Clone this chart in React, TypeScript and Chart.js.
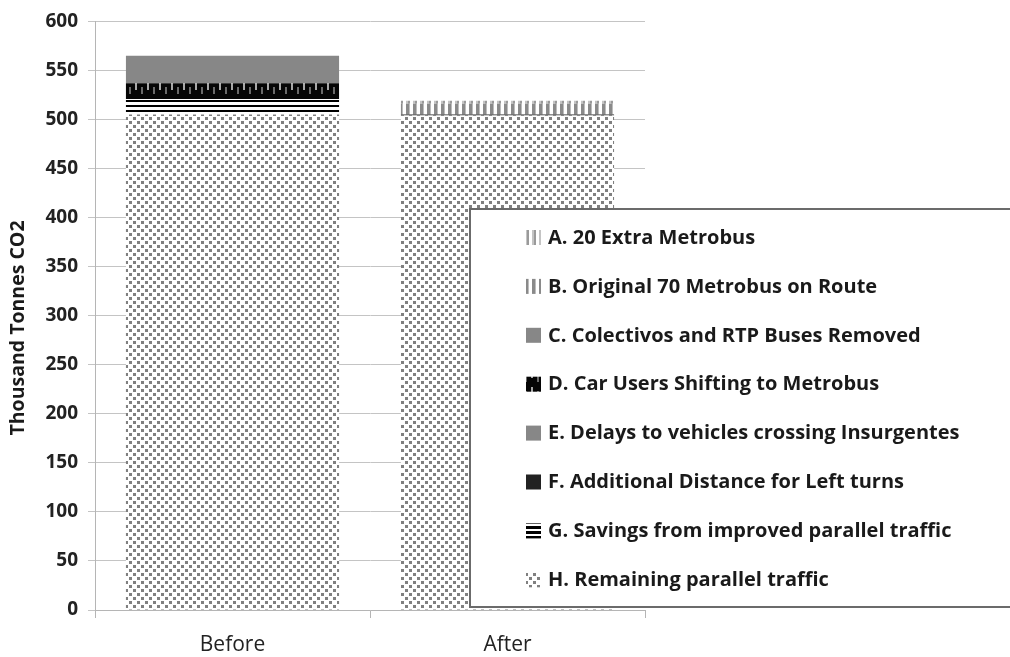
import React, { useEffect, useRef } from "react";
import { Chart, registerables } from "chart.js";

Chart.register(...registerables);

const categories = ["Before", "After"];
const legendLabels = [
  "A. 20 Extra Metrobus",
  "B. Original 70 Metrobus on Route",
  "C. Colectivos and RTP Buses Removed",
  "D. Car Users Shifting to Metrobus",
  "E. Delays to vehicles crossing Insurgentes",
  "F. Additional Distance for Left turns",
  "G. Savings from improved parallel traffic",
  "H. Remaining parallel traffic",
];
// values per category [Before, After]
const seriesA = [0, 3];
const seriesB = [0, 11];
const seriesC = [28, 0];
const seriesD = [16, 0];
const seriesE = [0, 0];
const seriesF = [0, 1];
const seriesG = [16, 0];
const seriesH = [505, 504];
const yTicks = [0, 50, 100, 150, 200, 250, 300, 350, 400, 450, 500, 550, 600];
const yTitle = "Thousand Tonnes CO2";

const FONT = "'Open Sans', 'Liberation Sans', sans-serif";

function makePattern(w: number, h: number, draw: (c: CanvasRenderingContext2D) => void): CanvasPattern | string {
  const cv = document.createElement("canvas");
  cv.width = w;
  cv.height = h;
  const c = cv.getContext("2d")!;
  draw(c);
  const ctx = document.createElement("canvas").getContext("2d")!;
  return ctx.createPattern(cv, "repeat") || "#888";
}

function buildFills() {
  const dots = makePattern(8, 8, (c) => {
    c.fillStyle = "#ffffff";
    c.fillRect(0, 0, 8, 8);
    c.fillStyle = "#808080";
    c.fillRect(1, 1, 3, 3);
    c.fillRect(5, 5, 3, 3);
  });
  const hlines = makePattern(6, 5, (c) => {
    c.fillStyle = "#ffffff";
    c.fillRect(0, 0, 6, 5);
    c.fillStyle = "#000000";
    c.fillRect(0, 0, 6, 2);
  });
  const dPat = makePattern(12, 16, (c) => {
    c.fillStyle = "#050505";
    c.fillRect(0, 0, 12, 16);
    c.fillStyle = "#a8a8a8";
    c.fillRect(3, 3, 2, 7);
    c.fillStyle = "#6a6a6a";
    c.fillRect(9, 7, 2, 7);
  });
  const aPat = makePattern(7, 4, (c) => {
    c.fillStyle = "#ffffff";
    c.fillRect(0, 0, 7, 4);
    c.fillStyle = "#c4c4c4";
    c.fillRect(0, 0, 2, 4);
    c.fillStyle = "#9a9a9a";
    c.fillRect(2, 0, 2, 4);
  });
  const bPat = makePattern(7, 4, (c) => {
    c.fillStyle = "#ffffff";
    c.fillRect(0, 0, 7, 4);
    c.fillStyle = "#8a8a8a";
    c.fillRect(0, 0, 3, 4);
    c.fillStyle = "#bdbdbd";
    c.fillRect(3, 0, 1, 4);
  });
  return { dots, hlines, dPat, aPat, bPat };
}

const legendPlugin = {
  id: "boxLegend",
  afterDraw(chart: any) {
    const ctx: CanvasRenderingContext2D = chart.ctx;
    const left = 470;
    const top = 209;
    const bottom = 607;
    const right = 1012;
    ctx.save();
    // y-axis title
    ctx.save();
    ctx.translate(18, 328);
    ctx.rotate(-Math.PI / 2);
    ctx.font = `bold 19.5px ${FONT}`;
    ctx.fillStyle = "#1a1a1a";
    ctx.textAlign = "center";
    ctx.textBaseline = "middle";
    ctx.fillText(yTitle, 0, 0);
    ctx.restore();

    ctx.fillStyle = "#ffffff";
    ctx.fillRect(left, top, right - left, bottom - top);
    ctx.strokeStyle = "#6b6b6b";
    ctx.lineWidth = 2;
    ctx.strokeRect(left, top, right - left, bottom - top);
    const ds = chart.data.datasets.slice().reverse();
    const startY = 237;
    const step = 48.9;
    ctx.font = `bold 20px ${FONT}`;
    ctx.textBaseline = "middle";
    ctx.textAlign = "left";
    ds.forEach((d: any, i: number) => {
      const y = startY + i * step;
      ctx.fillStyle = d.legendFill || d.backgroundColor;
      ctx.fillRect(526, y - 7, 15, 15);
      ctx.fillStyle = "#1a1a1a";
      ctx.fillText(d.label, 548, y + 1);
    });
    ctx.restore();
  },
};

export default function App() {
  const ref = useRef<HTMLCanvasElement | null>(null);
  useEffect(() => {
    if (!ref.current) return;
    const f = buildFills();
    const gLegend = makePattern(15, 15, (c) => {
      c.fillStyle = "#ffffff";
      c.fillRect(0, 0, 15, 15);
      c.fillStyle = "#000000";
      c.fillRect(0, 1, 15, 3);
      c.fillRect(0, 6, 15, 3);
      c.fillRect(0, 11, 15, 3);
    });
    const seriesList = [seriesH, seriesG, seriesF, seriesE, seriesD, seriesC, seriesB, seriesA];
    const fills: any[] = [f.dots, f.hlines, "#222222", "#878787", f.dPat, "#878787", f.bPat, f.aPat];
    const labelsRev = legendLabels.slice().reverse();
    const chart = new Chart(ref.current, {
      type: "bar",
      data: {
        labels: categories,
        datasets: seriesList.map((s, i) => ({
          label: labelsRev[i],
          data: s,
          backgroundColor: fills[i],
          legendFill: i === 1 ? gLegend : fills[i],
          borderWidth: 0,
          categoryPercentage: 1,
          barPercentage: 0.775,
        })) as any,
      },
      options: {
        animation: false,
        responsive: false,
        maintainAspectRatio: false,
        layout: { padding: { top: 20, right: 365, left: 0, bottom: 0 } },
        plugins: { legend: { display: false }, tooltip: { enabled: false } },
        scales: {
          x: {
            stacked: true,
            grid: { display: true, drawOnChartArea: false, tickLength: 8, color: "#b5b5b5" },
            border: { color: "#b5b5b5" },
            ticks: { font: { family: FONT, size: 21 }, color: "#222", padding: 14 },
            afterFit: (s: any) => {
              s.height = 47;
            },
          },
          y: {
            stacked: true,
            min: 0,
            max: 600,
            afterBuildTicks: (s: any) => {
              s.ticks = yTicks.map((v) => ({ value: v }));
            },
            grid: { color: "#c4c4c4", tickLength: 7 },
            border: { color: "#b5b5b5" },
            ticks: { font: { family: FONT, size: 19, weight: "bold" }, color: "#222", padding: 10 },
            title: { display: false },
            afterFit: (s: any) => {
              s.width = 95;
            },
          },
        },
      },
      plugins: [legendPlugin],
    });
    return () => chart.destroy();
  }, []);
  return (
    <div style={{ position: "absolute", left: 0, top: 0, width: 1010, height: 657, background: "#fff" }}>
      <canvas ref={ref} width={1010} height={657} style={{ width: 1010, height: 657 }} />
    </div>
  );
}
